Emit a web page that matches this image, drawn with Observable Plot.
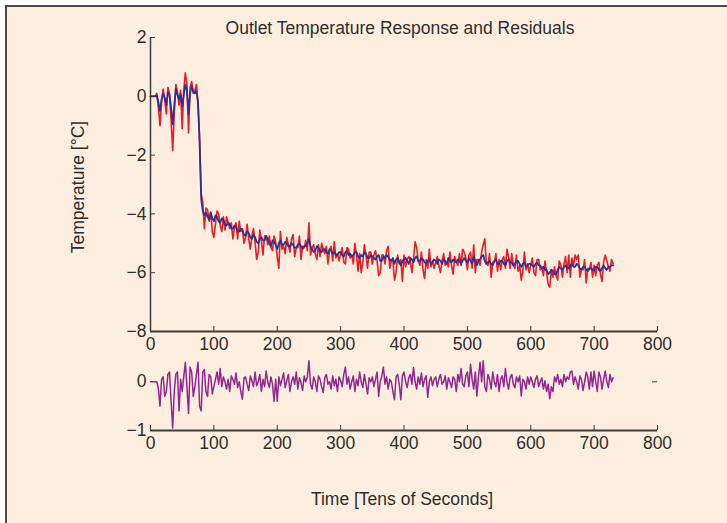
<!DOCTYPE html>
<html>
<head>
<meta charset="utf-8">
<script src="https://cdn.jsdelivr.net/npm/d3@7"></script>
<script src="https://cdn.jsdelivr.net/npm/@observablehq/plot@0.6"></script>
<style>
  html, body { margin: 0; padding: 0; background: #fff; overflow: hidden; width: 727px; height: 523px; }
  #frame { position: absolute; left: 5px; top: 5px; width: 800px; height: 600px; border: 2px solid #4a4a4a; background: #fdeedf; }
  #root { position: absolute; left: 0; top: 0; width: 727px; height: 523px; }
  .lbl { position: absolute; font-family: "Liberation Sans", Arial, Helvetica, sans-serif; font-size: 17.5px; line-height: 17px; color: #2e2e2e; white-space: nowrap; }
  .plotbox { position: absolute; left: 0; }
</style>
</head>
<body>
<div id="frame"></div>
<div id="root">
  <div class="lbl" id="title" style="left:400px; top:20px; transform:translateX(-50%);">Outlet Temperature Response and Residuals</div>
  <div class="lbl" id="ylab" style="left:78px; top:187px; transform:translate(-50%,-50%) rotate(-90deg);">Temperature [°C]</div>
  <div class="lbl" id="xlab" style="left:402px; top:491px; transform:translateX(-50%);">Time [Tens of Seconds]</div>
  <div class="plotbox" id="top" style="top:0px;"></div>
  <div class="plotbox" id="bottom" style="top:340px;"></div>
</div>
<script>
// ---- data (sampled every 2.5 time units, tens of seconds) ----
const STEP = 2.5;
const xTicks = [0, 100, 200, 300, 400, 500, 600, 700, 800];
const yTicksTop = [-8, -6, -4, -2, 0, 2];
const yTicksBottom = [-1, 0];

// measured outlet temperature (red)
const measured = [
  0, 0, 0, 0, 0.1, -0.4, -1.0, -0.2, 0.25, -0.15, -0.6, 0.3, 0.1, -0.8, -1.85, -0.6, 0.4, 0.15, -0.3, 0.2,
  -1.1, 0.2, 0.8, 0.4, -1.25, 0.3, 0.5, 0.1, 0.2, 0.4, -0.3, -1.4, -3.3, -3.6, -4.5, -3.8, -3.85, -4.25, -3.95, -4.6,
  -4.8, -4.35, -3.9, -4.0, -4.4, -4.6, -4.1, -4.55, -4.1, -4.3, -4.5, -4.3, -4.85, -4.45, -4.3, -4.85, -4.25, -4.6, -4.5, -5.0,
  -4.8, -4.35, -4.85, -5.2, -4.75, -4.5, -4.95, -5.55, -5.3, -4.55, -4.9, -5.4, -4.75, -4.75, -5.05, -4.75, -5.15, -5.25, -4.75, -4.95,
  -5.45, -5.85, -4.6, -5.2, -5.1, -5.35, -4.8, -5.05, -5.3, -4.85, -4.7, -5.45, -5.15, -5.15, -4.75, -5.55, -5.1, -5.15, -4.9, -5.25,
  -4.3, -5.4, -5.15, -5.05, -5.35, -5.55, -5.05, -5.45, -5.0, -5.2, -5.35, -5.1, -5.7, -5.25, -5.1, -5.6, -4.95, -5.5, -5.35, -5.6,
  -5.35, -5.15, -5.65, -5.7, -5.15, -5.2, -5.5, -5.4, -5.7, -5.0, -5.4, -5.95, -5.35, -6.0, -5.65, -5.05, -5.4, -5.85, -5.3, -5.3,
  -5.7, -5.4, -5.25, -5.6, -6.1, -6.0, -5.4, -5.4, -5.7, -5.25, -5.1, -5.85, -5.6, -5.6, -6.25, -6.0, -5.4, -5.7, -5.55, -6.3,
  -5.4, -5.8, -5.55, -5.45, -5.6, -6.0, -5.55, -4.95, -5.15, -5.6, -5.75, -5.3, -5.9, -6.2, -5.55, -5.85, -5.2, -5.8, -5.6, -5.85,
  -5.65, -5.45, -5.75, -6.0, -5.6, -5.35, -5.75, -5.65, -5.8, -5.3, -5.75, -6.05, -5.45, -5.65, -5.75, -5.35, -5.75, -5.2, -5.3, -5.5,
  -5.9, -5.4, -5.3, -5.85, -5.05, -6.0, -5.55, -5.55, -5.75, -5.3, -5.05, -4.85, -5.7, -5.75, -5.35, -6.15, -5.65, -5.65, -5.35, -5.95,
  -5.55, -5.9, -5.55, -5.45, -5.85, -5.2, -5.45, -5.85, -5.35, -5.75, -5.85, -5.4, -5.95, -5.75, -6.25, -5.95, -5.3, -5.9, -5.7, -6.0,
  -5.75, -5.5, -6.0, -6.1, -5.55, -5.55, -5.9, -5.8, -6.1, -5.6, -6.0, -6.4, -6.5, -5.9, -6.15, -5.8, -6.1, -6.25, -5.6, -5.75,
  -6.15, -5.7, -5.45, -6.0, -5.4, -6.15, -5.5, -5.75, -5.4, -5.55, -5.4, -6.15, -5.9, -5.9, -5.55, -6.35, -5.85, -5.9, -5.65, -6.15,
  -5.75, -6.1, -5.75, -5.65, -6.05, -6.3, -5.65, -5.4, -5.6, -5.8, -5.95, -5.55, -5.7
];

// model response (blue)
const model = [
  0, 0, 0, 0, 0.02, -0.2, -0.5, -0.1, 0.1, -0.05, -0.3, 0.15, 0.05, -0.4, -0.95, -0.3, 0.25, 0.05, -0.1, 0.1,
  -0.35, 0.05, 0.4, 0.2, -0.6, 0.1, 0.35, 0.15, 0.1, 0.2, -0.2, -1.6, -3.5, -3.9, -4.05, -3.95, -4.1, -4.2, -3.95, -4.15,
  -4.25, -4.05, -4.1, -4.25, -4.3, -4.15, -4.2, -4.35, -4.4, -4.3, -4.35, -4.5, -4.5, -4.4, -4.45, -4.6, -4.6, -4.5, -4.55, -4.7,
  -4.75, -4.6, -4.65, -4.8, -4.85, -4.7, -4.8, -4.95, -5.0, -4.85, -4.8, -4.9, -4.9, -4.75, -4.85, -5.0, -5.1, -4.9, -4.95, -5.05,
  -5.2, -5.0, -4.9, -5.05, -5.05, -4.95, -5.0, -5.1, -5.1, -5.0, -5.05, -5.15, -5.15, -5.05, -5.0, -5.1, -5.2, -5.1, -5.1, -5.0,
  -4.85, -5.1, -5.2, -5.3, -5.25, -5.1, -5.15, -5.25, -5.3, -5.2, -5.2, -5.3, -5.35, -5.2, -5.25, -5.35, -5.3, -5.4, -5.4, -5.3,
  -5.3, -5.4, -5.45, -5.3, -5.25, -5.4, -5.35, -5.45, -5.4, -5.3, -5.3, -5.45, -5.5, -5.4, -5.45, -5.3, -5.35, -5.5, -5.5, -5.4,
  -5.45, -5.5, -5.55, -5.45, -5.4, -5.6, -5.6, -5.45, -5.5, -5.4, -5.45, -5.55, -5.6, -5.5, -5.7, -5.55, -5.5, -5.65, -5.75, -5.6,
  -5.55, -5.5, -5.6, -5.7, -5.5, -5.55, -5.65, -5.5, -5.45, -5.6, -5.6, -5.5, -5.55, -5.65, -5.7, -5.6, -5.55, -5.7, -5.65, -5.55,
  -5.6, -5.7, -5.55, -5.6, -5.7, -5.55, -5.6, -5.7, -5.5, -5.6, -5.65, -5.55, -5.6, -5.65, -5.55, -5.6, -5.7, -5.6, -5.5, -5.6,
  -5.65, -5.5, -5.6, -5.7, -5.45, -5.6, -5.75, -5.6, -5.55, -5.45, -5.4, -5.6, -5.7, -5.65, -5.6, -5.7, -5.75, -5.6, -5.55, -5.7,
  -5.7, -5.6, -5.6, -5.7, -5.75, -5.6, -5.55, -5.65, -5.65, -5.75, -5.7, -5.6, -5.6, -5.7, -5.8, -5.7, -5.65, -5.8, -5.75, -5.7,
  -5.7, -5.75, -5.8, -5.7, -5.65, -5.75, -5.75, -5.85, -5.8, -5.9, -5.9, -6.05, -6.0, -5.9, -5.95, -6.05, -6.05, -5.9, -5.8, -5.85,
  -5.9, -5.8, -5.75, -5.85, -5.85, -5.75, -5.7, -5.8, -5.8, -5.7, -5.75, -5.85, -5.9, -5.8, -5.8, -5.9, -5.95, -5.85, -5.85, -5.9,
  -5.9, -5.8, -5.8, -5.9, -5.95, -5.85, -5.75, -5.85, -5.9, -5.8, -5.8, -5.75, -5.75
];

// residuals (purple)
const residual = [
  0, 0, 0, 0, 0, -0.15, -0.5, 0.05, 0.1, -0.3, -0.2, 0.15, 0.2, -0.4, -0.95, -0.2, 0.15, 0.2, -0.6, 0.05,
  -0.2, 0.1, 0.4, -0.1, -0.65, 0.3, 0.2, -0.3, -0.1, 0.15, 0.4, -0.5, -0.6, 0.2, 0.25, -0.2, -0.3, 0.15, 0.1, -0.25,
  -0.1, 0.05, 0.2, -0.05, 0.27, -0.1, 0.1, 0.0, -0.15, 0.05, -0.2, 0.12, 0.05, -0.05, 0.18, -0.12, 0.0, -0.2, -0.36, 0.08,
  0.1, -0.05, -0.18, 0.12, 0.02, -0.1, 0.2, -0.08, 0.0, 0.15, -0.2, 0.05, -0.1, 0.22, 0.0, -0.12, 0.1, -0.05, -0.4, 0.05,
  -0.4, 0.1, -0.08, 0.05, 0.18, -0.12, 0.02, 0.15, -0.2, 0.0, 0.1, -0.05, 0.2, -0.15, 0.08, -0.02, -0.18, 0.12, 0.0, 0.1,
  0.43, -0.05, -0.15, 0.1, 0.0, -0.2, 0.12, 0.05, -0.1, -0.22, 0.08, 0.15, -0.05, 0.0, -0.15, 0.12, -0.08, 0.05, -0.2, 0.1,
  0.02, -0.1, 0.15, 0.3, -0.05, 0.1, -0.15, 0.0, 0.12, -0.2, 0.05, -0.08, 0.2, 0.0, -0.12, 0.15, -0.05, -0.25, 0.08, 0.0,
  0.1, -0.1, 0.05, 0.2, -0.3, 0.0, 0.12, 0.3, -0.05, 0.1, -0.15, 0.05, 0.0, -0.2, -0.37, 0.1, 0.15, -0.05, -0.37, 0.12,
  0.2, 0.0, -0.12, 0.08, 0.15, -0.05, 0.29, 0.0, -0.15, 0.1, -0.05, 0.18, -0.1, 0.05, 0.12, -0.32, 0.0, 0.1, -0.08, 0.05,
  0.1, -0.1, 0.05, 0.15, -0.05, 0.0, 0.12, -0.15, 0.08, 0.0, -0.12, 0.1, 0.05, -0.2, 0.15, 0.0, 0.27, -0.05, -0.1, 0.12,
  0.2, -0.1, 0.36, 0.05, -0.15, 0.2, -0.29, 0.1, 0.4, 0.0, 0.43, -0.1, -0.2, 0.15, 0.05, -0.15, 0.2, 0.0, -0.1, 0.15,
  -0.2, 0.05, 0.12, -0.1, 0.27, 0.0, -0.15, 0.08, 0.15, -0.05, -0.12, 0.1, 0.0, 0.12, -0.29, 0.05, 0.0, -0.15, 0.1, -0.05,
  0.1, 0.0, -0.12, 0.05, 0.12, -0.1, 0.0, 0.08, -0.15, 0.02, -0.2, -0.05, -0.35, -0.1, -0.2, 0.1, 0.0, 0.15, -0.05, 0.05,
  -0.1, 0.15, 0.0, 0.1, 0.05, 0.2, 0.22, -0.05, 0.1, 0.0, -0.15, 0.12, 0.05, -0.18, 0.0, 0.2, 0.1, -0.15, 0.2, -0.1,
  0.22, 0.0, -0.2, 0.2, 0.1, -0.15, 0.05, 0.22, 0.0, -0.12, 0.15, 0.0, 0.08
];

const topData = measured.map((m, i) => ({t: i * STEP, measured: m, model: model[i]}));
const resData = residual.map((r, i) => ({t: i * STEP, r}));

const FONT = '"Liberation Sans", Arial, Helvetica, sans-serif';
const AXIS = "#3c3c3c";
const W = 727;
const ML = 150, MR = 70;
const innerW = W - ML - MR;

// ---- top panel ----
const topH = 360, topMT = 37, topMB = 29;
const topInner = topH - topMT - topMB;
const topPlot = Plot.plot({
  width: W, height: topH,
  marginLeft: ML, marginRight: MR, marginTop: topMT, marginBottom: topMB,
  style: {background: "transparent", fontFamily: FONT, fontSize: "17.5px", color: "#2e2e2e", overflow: "visible"},
  x: {domain: [0, 800]},
  y: {domain: [-8, 2]},
  marks: [
    Plot.line(topData, {x: "t", y: "measured", stroke: "#ed1c24", strokeWidth: 1.6}),
    Plot.line(topData, {x: "t", y: "model", stroke: "#2e3192", strokeWidth: 1.8}),
    Plot.ruleX([0], {stroke: AXIS, strokeWidth: 1.5}),
    Plot.ruleY([-8], {stroke: AXIS, strokeWidth: 2}),
    Plot.tickX(xTicks, {x: d => d, insetTop: topInner - 5, stroke: AXIS, strokeWidth: 1}),
    Plot.tickY(yTicksTop, {y: d => d, insetRight: innerW - 5, stroke: AXIS, strokeWidth: 1}),
    Plot.axisX(xTicks, {tickSize: 0, tickPadding: 6, label: null, fontSize: 17.5}),
    Plot.axisY(yTicksTop, {tickSize: 0, tickPadding: 4, label: null, fontSize: 17.5})
  ]
});
document.getElementById("top").appendChild(topPlot);

// ---- bottom panel (residuals) ----
const botH = 120, botMT = 12, botMB = 30;
const botInner = botH - botMT - botMB;
const botPlot = Plot.plot({
  width: W, height: botH,
  marginLeft: ML, marginRight: MR, marginTop: botMT, marginBottom: botMB,
  style: {background: "transparent", fontFamily: FONT, fontSize: "17.5px", color: "#2e2e2e", overflow: "visible"},
  x: {domain: [0, 800]},
  y: {domain: [-1, 0.6]},
  marks: [
    Plot.line(resData, {x: "t", y: "r", stroke: "#92278f", strokeWidth: 1.5}),
    Plot.ruleY([-1], {stroke: AXIS, strokeWidth: 2}),
    Plot.tickX(xTicks, {x: d => d, insetTop: botInner - 5, stroke: AXIS, strokeWidth: 1}),
    Plot.tickY([0], {y: d => d, insetLeft: innerW - 5, stroke: AXIS, strokeWidth: 1}),
    Plot.axisX(xTicks, {tickSize: 0, tickPadding: 6, label: null, fontSize: 17.5}),
    Plot.axisY(yTicksBottom, {tickSize: 0, tickPadding: 4, label: null, fontSize: 17.5})
  ]
});
document.getElementById("bottom").appendChild(botPlot);
</script>
</body>
</html>
